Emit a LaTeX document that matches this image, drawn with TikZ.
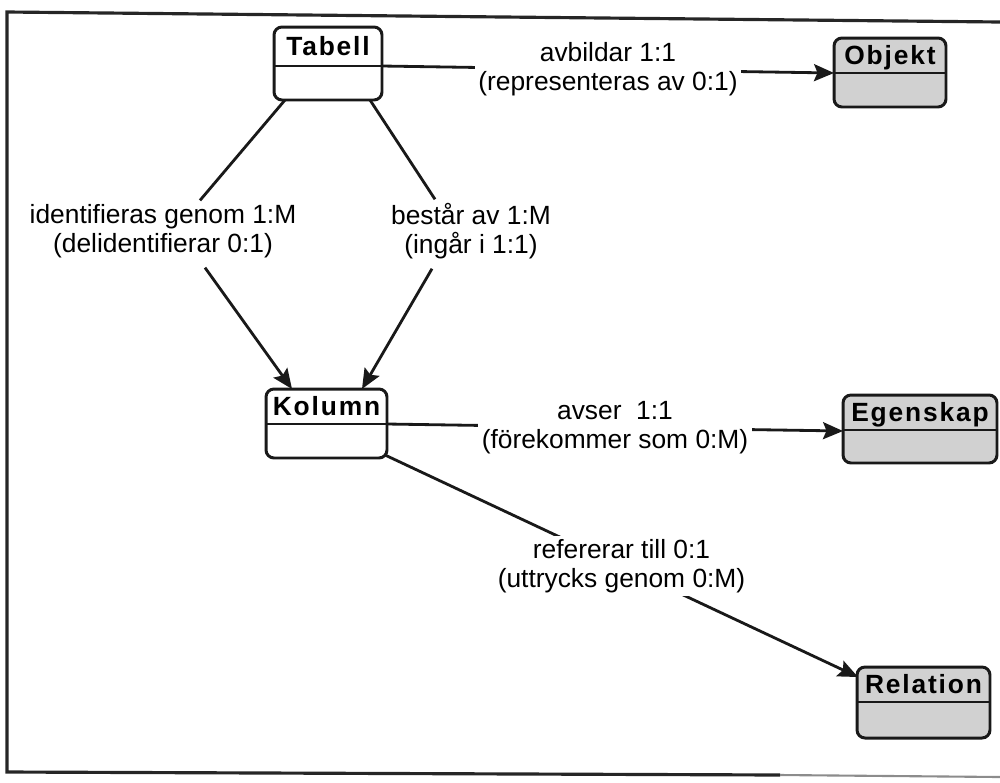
\documentclass[tikz,border=0pt]{standalone}
\usepackage{fontspec}
\setmainfont{Liberation Sans}
\newfontfamily\titlefont[LetterSpace=7]{Liberation Sans}
\usetikzlibrary{arrows.meta,calc}

\begin{document}
\begin{tikzpicture}[x=0.02cm,y=-0.02cm,
  entity/.style={draw=black!90, line width=1.7pt, rounded corners=0.16cm,
                 inner sep=0pt, outer sep=0pt},
  plain/.style={entity, fill=white},
  shaded/.style={entity, fill=black!18},
  etitle/.style={font=\titlefont\bfseries\fontsize{15}{17}\selectfont,
                 inner sep=0pt, text height=10.7pt, text depth=0pt},
  rel/.style={font=\fontsize{15}{16.5}\selectfont, align=center, inner sep=2pt},
  conn/.style={draw=black!90, line width=1.6pt},
  arr/.style={conn, -{Stealth[length=0.4cm, width=0.34cm, inset=0.07cm]}}]

\useasboundingbox (0,0) rectangle (1000,782);

% page frame
\draw[line width=1.8pt, black!85] (1000,22) -- (7,12) -- (7,772) -- (780,775);
\draw[line width=1.2pt, black!45] (780,775) -- (1000,777);

% entity boxes (header part above the divider)
\node[plain,  minimum width=2.16cm, minimum height=1.46cm] (tabell)   at (328,63.5)  {};
\node[shaded, minimum width=2.24cm, minimum height=1.38cm] (objekt)   at (890,72.5)  {};
\node[plain,  minimum width=2.42cm, minimum height=1.38cm] (kolumn)   at (326.5,423.5) {};
\node[shaded, minimum width=3.08cm, minimum height=1.36cm] (egenskap) at (920,429)   {};
\node[shaded, minimum width=2.66cm, minimum height=1.42cm] (relation) at (923.5,702.5) {};

\draw[conn] ($(tabell.north west)!0.534!(tabell.south west)$) -- ($(tabell.north east)!0.534!(tabell.south east)$);
\draw[conn] ($(objekt.north west)!0.507!(objekt.south west)$) -- ($(objekt.north east)!0.507!(objekt.south east)$);
\draw[conn] ($(kolumn.north west)!0.507!(kolumn.south west)$) -- ($(kolumn.north east)!0.507!(kolumn.south east)$);
\draw[conn] ($(egenskap.north west)!0.515!(egenskap.south west)$) -- ($(egenskap.north east)!0.515!(egenskap.south east)$);
\draw[conn] ($(relation.north west)!0.493!(relation.south west)$) -- ($(relation.north east)!0.493!(relation.south east)$);

% entity names
\node[etitle] (tabellT)   at ($(tabell.north)!0.267!(tabell.south)$)     {Tabell};
\node[etitle] (objektT)   at ($(objekt.north)!0.254!(objekt.south)$)     {Objekt};
\node[etitle] (kolumnT)   at ($(kolumn.north)!0.254!(kolumn.south)$)     {Kolumn};
\node[etitle] (egenskapT) at ($(egenskap.north)!0.257!(egenskap.south)$) {Egenskap};
\node[etitle] (relationT) at ($(relation.north)!0.247!(relation.south)$) {Relation};

% Tabell -> Objekt
\draw[arr] ($(tabell.east)+(0,2.5)$) --
  node[rel, fill=white, midway] (lblAvb) {avbildar 1:1\\(representeras av 0:1)}
  ($(objekt.west)+(0,0.5)$);

% Tabell -> Kolumn (two relations, bent at their labels)
\node[rel] (lblId)   at (163,231) {identifieras genom 1:M\\(delidentifierar 0:1)};
\node[rel] (lblBest) at (471,231) {består av 1:M\\(ingår i 1:1)};

\draw[conn] ($(tabell.south west)+(11,0)$) -- ($(lblId.north)+(37,0)$);
\draw[arr]  ($(lblId.south)+(42,6)$) -- ($(kolumn.north west)+(26,0)$);
\draw[conn] ($(tabell.south east)+(-12,0)$) -- ($(lblBest.north)+(-36,0)$);
\draw[arr]  ($(lblBest.south)+(-39,6)$) -- ($(kolumn.north east)+(-25,0)$);

% Kolumn -> Egenskap
\draw[arr] ($(kolumn.east)+(0,0.5)$) --
  node[rel, fill=white, midway] (lblAvs) {avser\ \ 1:1\\(förekommer som 0:M)}
  ($(egenskap.west)+(0,2)$);

% Kolumn -> Relation
\draw[arr] ($(kolumn.south east)+(-2,-3)$) --
  node[rel, fill=white, midway] (lblRef) {refererar till 0:1\\(uttrycks genom 0:M)}
  ($(relation.north west)+(1,10)$);

\end{tikzpicture}
\end{document}
